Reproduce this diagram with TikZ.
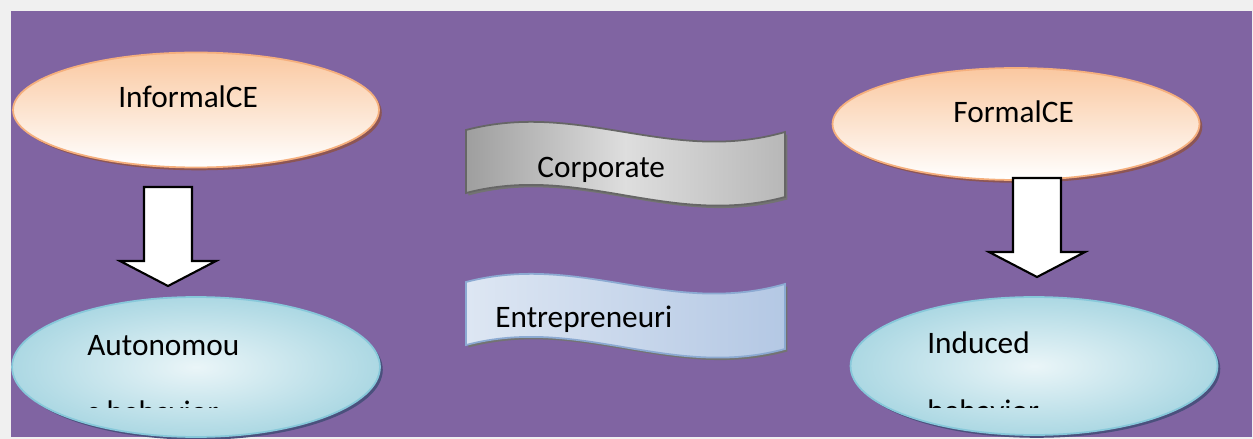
\documentclass[tikz,border=0pt]{standalone}
\usepackage{xcolor}
\usepackage{fontspec}
\setmainfont{Carlito}
\usetikzlibrary{shapes.geometric, shadows, calc}

\definecolor{bgpurple}{RGB}{128,100,162}
\definecolor{pagegray}{RGB}{240,240,240}
\definecolor{peach}{RGB}{250,200,160}
\definecolor{peachline}{RGB}{245,175,125}
\definecolor{peachshadow}{RGB}{140,85,85}
\definecolor{aqua}{RGB}{172,216,227}
\definecolor{aqualine}{RGB}{135,200,218}
\definecolor{aquashadow}{RGB}{75,80,125}
\definecolor{steel}{RGB}{140,170,210}
\definecolor{steelfill}{RGB}{180,200,228}

\begin{document}
\begin{tikzpicture}[x=0.02cm, y=-0.02cm,
    txt/.style={font=\fontsize{17.8}{20}\selectfont, inner sep=0pt, anchor=base west},
    peachbox/.style={draw=peachline, line width=1pt, ellipse, top color=peach, bottom color=white,
        drop shadow={shadow xshift=1.6pt, shadow yshift=-1.6pt, fill=peachshadow, opacity=1}},
    aquabox/.style={draw=aqualine, line width=1pt, ellipse, inner color=aqua!25, outer color=aqua,
        drop shadow={shadow xshift=1.6pt, shadow yshift=-1.6pt, fill=aquashadow, opacity=1}},
    blockarrow/.style={draw=black, line width=1.2pt, fill=white, line join=miter},
    banner/.style={line width=1pt, drop shadow={shadow xshift=1.4pt, shadow yshift=-1.4pt, fill=black!55, opacity=1}}]

    \useasboundingbox (0,0) rectangle (1253,439);
    \fill[pagegray] (0,0) rectangle (1253,439);
    \fill[bgpurple] (11,11) rectangle (1252,437);

    % Ellipses
    \node[peachbox, minimum width=7.32cm, minimum height=2.3cm] (informal) at (196,110) {};
    \node[peachbox, minimum width=7.34cm, minimum height=2.24cm] (formal) at (1016,124) {};
    \node[aquabox, minimum width=7.36cm, minimum height=2.8cm] (auto) at (196,367) {};
    \node[aquabox, minimum width=7.34cm, minimum height=2.76cm] (induced) at (1034,366) {};

    % Block arrows, drawn back from the tip
    \coordinate (tipL) at (168,286);
    \coordinate (tipR) at (1037,277);
    \draw[blockarrow] (tipL) -- ++(48,-25) -- ++(-24,0) -- ++(0,-74) -- ++(-48,0) -- ++(0,74) -- ++(-24,0) -- cycle;
    \draw[blockarrow] (tipR) -- ++(48,-25) -- ++(-24,0) -- ++(0,-74) -- ++(-48,0) -- ++(0,74) -- ++(-24,0) -- cycle;

    % Banners
    \draw[banner, draw=black!60, left color=black!38, right color=black!28, middle color=black!13]
        (466,130) .. controls (580,100) and (670,165) .. (785,132) -- (785,197)
        .. controls (670,228) and (580,163) .. (466,193) -- cycle;
    \draw[banner, shift={(0,152)}, draw=steel, left color=steelfill!45, right color=steelfill]
        (466,130) .. controls (580,100) and (670,165) .. (785,132) -- (785,197)
        .. controls (670,228) and (580,163) .. (466,193) -- cycle;

    % Labels
    \node[txt] (informalTxt) at (118,108) {InformalCE};
    \node[txt] (formalTxt) at (953,122) {FormalCE};
    \node[txt] (corpTxt) at (537,177) {Corporate};
    \node[txt] (entTxt) at (495,327) {Entrepreneuri};
    \node[txt] (autoTxt) at (87,355) {Autonomou};
    \node[txt] (inducedTxt) at (927,353) {Induced};
    \begin{scope}
        \clip (0,380) rectangle (1253,407);
        \node[txt] (autoTxtB) at (87,422) {s behavior};
        \node[txt] (inducedTxtB) at (927,421) {behavior};
    \end{scope}
\end{tikzpicture}
\end{document}
